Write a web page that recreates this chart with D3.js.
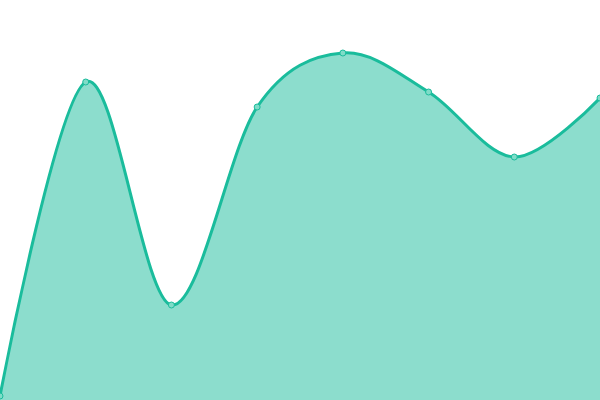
<!DOCTYPE html>
<html><head><meta charset="utf-8">
<script src="https://cdn.jsdelivr.net/npm/d3@7"></script>
<style>html,body{margin:0;padding:0;background:#fff;}svg{display:block;}</style>
</head><body>
<svg id="c" width="600" height="400"></svg>
<script>
const categories = [0,1,2,3,4,5,6,7];
const values = [1, 79.5, 23.75, 73.25, 86.75, 77, 60.75, 75.5];

const W = 600, H = 400;
const svg = d3.select('#c');
const x = d3.scaleLinear().domain([0, categories.length - 1]).range([0, W]);
const y = d3.scaleLinear().domain([0, 100]).range([H, 0]);
const data = categories.map((c, i) => ({c, v: values[i]}));

const area = d3.area().x(d => x(d.c)).y0(H).y1(d => y(d.v)).curve(d3.curveCardinal);
const line = d3.line().x(d => x(d.c)).y(d => y(d.v)).curve(d3.curveCardinal);

svg.append('path').datum(data).attr('d', area).attr('fill', '#1abc9c').attr('fill-opacity', 0.5);
svg.append('path').datum(data).attr('d', line).attr('fill', 'none').attr('stroke', '#1abc9c').attr('stroke-width', 3);
svg.selectAll('circle').data(data).join('circle')
  .attr('cx', d => x(d.c)).attr('cy', d => y(d.v)).attr('r', 3)
  .attr('fill', '#7fdcc8').attr('stroke', '#1abc9c').attr('stroke-width', 1);
</script>
</body></html>
